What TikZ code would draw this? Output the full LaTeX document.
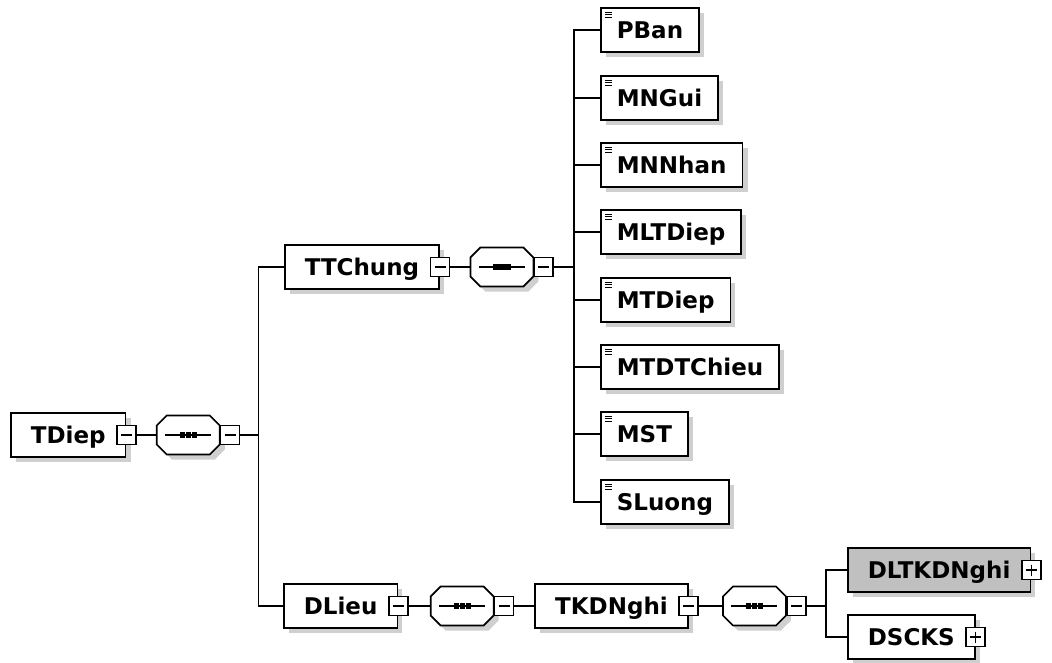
\documentclass[tikz,border=0pt]{standalone}
\usepackage{fontspec}
\setsansfont{DejaVu Sans}
\usepackage{xcolor}
\usetikzlibrary{calc,positioning,shadows}
\definecolor{boxgray}{RGB}{192,192,192}
\definecolor{shadowgray}{RGB}{120,120,120}

% sequence compositor drawn round an invisible node
\newcommand{\seqshape}[1]{%
  \draw[fill=white, boxshadow] ($(#1.north west)+(10,0)$) -- ($(#1.north east)+(-10,0)$)
    -- ($(#1.north east)+(0,10)$) -- ($(#1.south east)+(0,-10)$)
    -- ($(#1.south east)+(-10,0)$) -- ($(#1.south west)+(10,0)$)
    -- ($(#1.south west)+(0,-10)$) -- ($(#1.north west)+(0,10)$) -- cycle;
  \draw[line width=1.2pt] ($(#1.center)+(-23,0)$) -- ($(#1.center)+(23,0)$);
  \foreach \d in {-6,0,6}
    \fill ($(#1.center)+(\d,0)$) +(-2.6,-2.6) rectangle +(2.6,2.6);}

\begin{document}
\begin{tikzpicture}[x=1pt, y=-1pt, line width=1.7pt,
  boxshadow/.style={drop shadow={shadow xshift=5pt, shadow yshift=-5pt,
    fill=shadowgray, opacity=0.35}},
  elem/.style={draw, fill=white, anchor=west, minimum height=44pt,
    inner xsep=20pt, inner ysep=0pt, text height=17pt, text depth=0pt,
    font=\fontsize{23}{27}\selectfont\sffamily\bfseries, boxshadow},
  leaf/.style={elem, inner xsep=16pt,
    path picture={\foreach \d in {4,6.8,9.6}
      \draw[line width=1pt] ([xshift=4pt, yshift=-\d pt]path picture bounding box.north west) -- ++(7.5,0);}},
  minus/.style={draw, fill=white, minimum size=19pt, inner sep=0pt,
    path picture={\draw[line width=1.1pt] ([xshift=4pt]path picture bounding box.west)
      -- ([xshift=-4pt]path picture bounding box.east);}},
  plus/.style={draw, fill=white, minimum size=19pt, inner sep=0pt,
    path picture={\draw[line width=1.1pt] ([xshift=4pt]path picture bounding box.west)
      -- ([xshift=-4pt]path picture bounding box.east);
      \draw[line width=1.1pt] ([yshift=-4pt]path picture bounding box.north)
      -- ([yshift=4pt]path picture bounding box.south);}},
  seq/.style={minimum width=63pt, minimum height=39pt, inner sep=0pt, outer sep=0pt},
]
  \useasboundingbox (0,0) rectangle (1052,662);
  \fill[white] (0,0) rectangle (1052,662);

  % Root
  \node[elem] (TDiep) at (10,435) {TDiep};
  \node[minus] (mTDiep) at (TDiep.east) {};
  \node[seq, right=20pt of mTDiep] (sTDiep) {};
  \seqshape{sTDiep}
  \node[minus, anchor=west] (msTDiep) at (sTDiep.east) {};
  \coordinate (bar1) at ($(msTDiep.east)+(18,0)$);

  % TTChung branch
  \node[elem] (TTChung) at (284,267) {TTChung};
  \node[minus] (mTTChung) at (TTChung.east) {};
  \node[seq, right=20pt of mTTChung] (sTTChung) {};
  \seqshape{sTTChung}
  \node[minus, anchor=west] (msTTChung) at (sTTChung.east) {};
  \coordinate (bar2) at ($(msTTChung.east)+(20,0)$);

  % Leaf elements
  \foreach \name/\y in {PBan/30,MNGui/98,MNNhan/165,MLTDiep/232,MTDiep/300,MTDTChieu/367,MST/434,SLuong/502}
    \node[leaf] (\name) at (600,\y) {\name};

  % DLieu branch
  \node[elem] (DLieu) at (283,606) {DLieu};
  \node[minus] (mDLieu) at (DLieu.east) {};
  \node[seq, right=22pt of mDLieu] (sDLieu) {};
  \seqshape{sDLieu}
  \node[minus, anchor=west] (msDLieu) at (sDLieu.east) {};
  \node[elem, right=20pt of msDLieu] (TKDNghi) {TKDNghi};
  \node[minus] (mTKDNghi) at (TKDNghi.east) {};
  \node[seq, right=24pt of mTKDNghi] (sTKDNghi) {};
  \seqshape{sTKDNghi}
  \node[minus, anchor=west] (msTKDNghi) at (sTKDNghi.east) {};
  \coordinate (bar3) at ($(msTKDNghi.east)+(19,0)$);

  \node[elem, fill=boxgray] (DLTKDNghi) at (847,570) {DLTKDNghi};
  \node[plus] (pDLTKDNghi) at (DLTKDNghi.east) {};
  \node[elem] (DSCKS) at (847,637) {DSCKS};
  \node[plus] (pDSCKS) at (DSCKS.east) {};

  % Connectors
  \draw (mTDiep) -- (sTDiep);
  \draw (msTDiep.east) -- (bar1);
  \draw (TTChung.west) -| (bar1) |- (DLieu.west);

  \draw (mTTChung) -- (sTTChung);
  \draw (msTTChung.east) -- (bar2);
  \draw (PBan.west) -| (bar2) |- (SLuong.west);
  \foreach \name in {MNGui,MNNhan,MLTDiep,MTDiep,MTDTChieu,MST}
    \draw (\name.west) -- (\name.west -| bar2);

  \draw (mDLieu) -- (sDLieu);
  \draw (msDLieu) -- (TKDNghi);
  \draw (mTKDNghi) -- (sTKDNghi);
  \draw (msTKDNghi.east) -- (bar3);
  \draw (DLTKDNghi.west) -| (bar3) |- (DSCKS.west);
\end{tikzpicture}
\end{document}
